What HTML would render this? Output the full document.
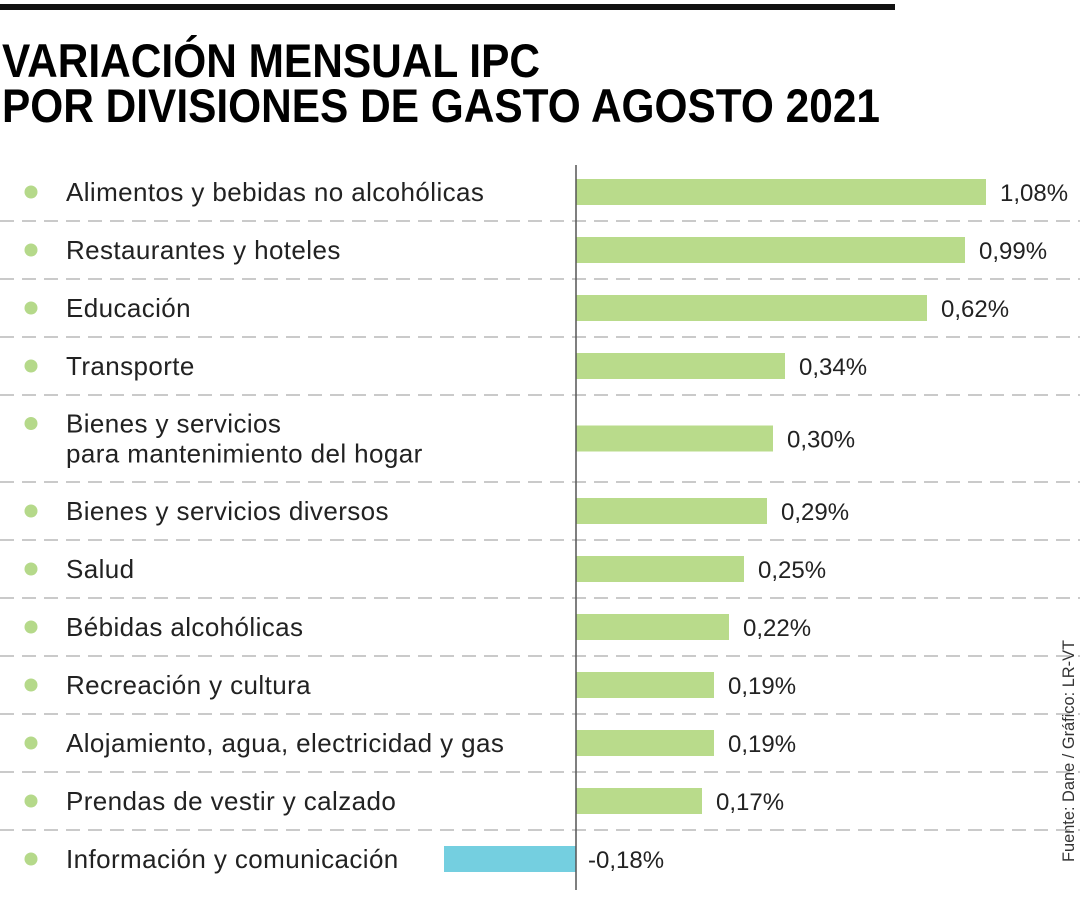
<!DOCTYPE html>
<html><head><meta charset="utf-8"><style>
html,body{margin:0;padding:0;background:#fff;}
svg{display:block;font-family:"Liberation Sans",sans-serif;}
</style></head><body>
<svg id="chart" width="1080" height="900" viewBox="0 0 1080 900">
<rect x="0" y="4" width="895" height="6" fill="#111"/>
<text x="2" y="77" font-size="47" font-weight="bold" fill="#000" textLength="538" lengthAdjust="spacingAndGlyphs">VARIACIÓN MENSUAL IPC</text>
<text x="2" y="122" font-size="47" font-weight="bold" fill="#000" textLength="878" lengthAdjust="spacingAndGlyphs">POR DIVISIONES DE GASTO AGOSTO 2021</text>
<text transform="translate(1074,862) rotate(-90)" font-size="17" fill="#333" textLength="222" lengthAdjust="spacingAndGlyphs">Fuente: Dane / Gráfico: LR-VT</text>
<g id="rows"></g>
<line x1="576" y1="165" x2="576" y2="890" stroke="#555" stroke-width="1.5"/>
</svg>
<script>
const categories = ["Alimentos y bebidas no alcohólicas","Restaurantes y hoteles","Educación","Transporte","Bienes y servicios|para mantenimiento del hogar","Bienes y servicios diversos","Salud","Bébidas alcohólicas","Recreación y cultura","Alojamiento, agua, electricidad y gas","Prendas de vestir y calzado","Información y comunicación"];
const values = [1.08,0.99,0.62,0.34,0.30,0.29,0.25,0.22,0.19,0.19,0.17,-0.18];
const valueLabels = ["1,08%","0,99%","0,62%","0,34%","0,30%","0,29%","0,25%","0,22%","0,19%","0,19%","0,17%","-0,18%"];
// Chart is drawn on a non-uniform (polylinear) scale in the original
const scaleDomain = [0,0.17,0.19,0.22,0.25,0.29,0.30,0.34,0.62,0.99,1.08];
function lenScale(a){
  const r=[0,126,138,153,168,191,197,209,351,389,410];
  a=Math.abs(a);
  for(let i=1;i<scaleDomain.length;i++){
    if(a<=scaleDomain[i]){const t=(a-scaleDomain[i-1])/(scaleDomain[i]-scaleDomain[i-1]);return r[i-1]+t*(r[i]-r[i-1]);}
  }
  const n=scaleDomain.length-1;return r[n]+(a-scaleDomain[n])*(r[n]-r[n-1])/(scaleDomain[n]-scaleDomain[n-1]);
}
const NS="http://www.w3.org/2000/svg";
const g=document.getElementById('rows');
function mk(t,attrs,parent){const e=document.createElementNS(NS,t);for(const k in attrs)e.setAttribute(k,attrs[k]);(parent||g).appendChild(e);return e;}
const x0=576;
let y=163;
categories.forEach((c,i)=>{
  const lines=c.split('|');
  const h=lines.length>1?87:58;
  const cy=y+h/2;
  const dot=mk('circle',{cx:31,cy:cy-(lines.length>1?15:0),r:6.5,fill:'#b5d98a'});
  
  
  lines.forEach((l,j)=>{
    const t=mk('text',{x:66,y:cy+9+(lines.length>1?(j-0.5)*30:0),'font-size':26,'letter-spacing':0.4,fill:'#222'});
    t.textContent=l;
    
    
  });
  const v=values[i];const L=lenScale(v);
  const bx=v>=0?x0:x0-L;
  const b=mk('rect',{x:bx,y:cy-13,width:L,height:26,fill:v>=0?'#b9db8b':'#74cfe0'});
  
  
  const vt=mk('text',{x:v>=0?x0+L+14:x0+12,y:cy+9,'font-size':24,fill:'#222'});
  vt.textContent=valueLabels[i];
  
  
  y+=h;
  if(i<categories.length-1){
    const ln=mk('line',{x1:0,x2:1080,y1:y,y2:y,stroke:'#aaa','stroke-width':1.2,'stroke-dasharray':'14 8'});
    
    
  }
});
</script>
</body></html>
